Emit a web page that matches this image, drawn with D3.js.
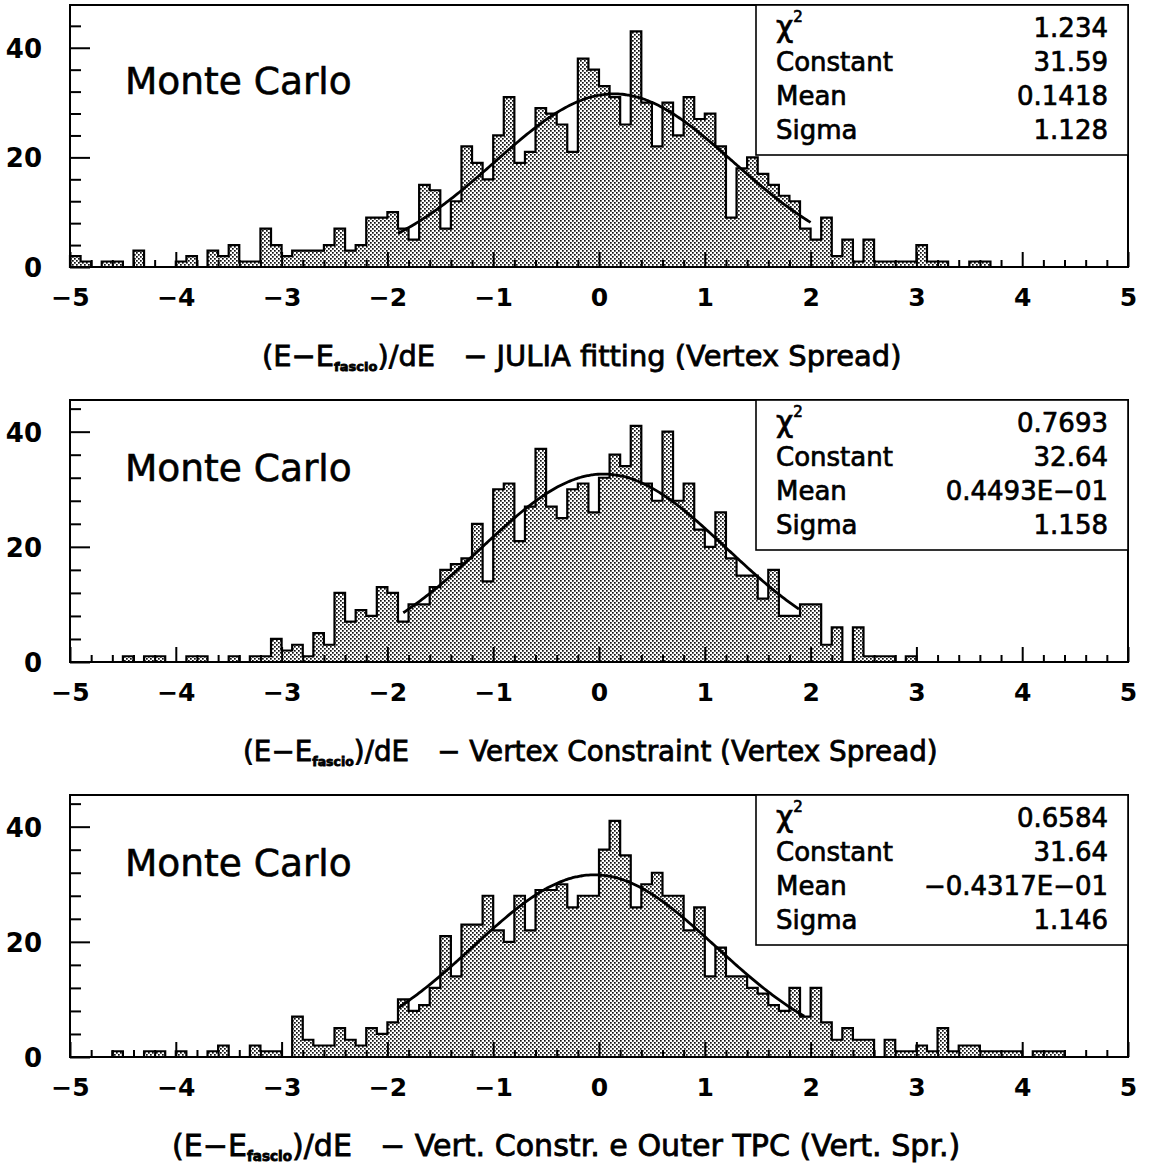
<!DOCTYPE html>
<html>
<head>
<meta charset="utf-8">
<script src="https://cdn.jsdelivr.net/npm/d3@7"></script>
<style>
  body { margin: 0; background: #fff; }
  svg { display: block; }
</style>
</head>
<body>
<svg id="chart" width="1149" height="1171"></svg>
<script>
// ---- data -------------------------------------------------------------
// 100 bins of width 0.1 between -5 and 5 (lower edges)
const binLow = d3.range(100).map(i => -5 + i * 0.1);

// entries per bin, (E - E_fascio)/dE, JULIA fitting
const countsJulia = [
  2, 1, 0, 1, 1, 0, 3, 0, 0, 0,
  1, 2, 0, 3, 2, 4, 1, 1, 7, 4,
  2, 3, 3, 3, 4, 7, 3, 4, 9, 9,
  10, 7, 5, 15, 14, 7, 12, 22, 19, 16,
  24, 31, 19, 21, 29, 28, 26, 21, 38, 36,
  33, 31, 26, 43, 30, 22, 30, 24, 31, 27,
  28, 22, 9, 18, 20, 17, 15, 13, 12, 7,
  5, 9, 2, 5, 1, 5, 1, 1, 1, 1,
  4, 1, 1, 0, 0, 1, 1, 0, 0, 0,
  0, 0, 0, 0, 0, 0, 0, 0, 0, 0
];

// entries per bin, Vertex Constraint
const countsVertex = [
  0, 0, 0, 0, 0, 1, 0, 1, 1, 0,
  0, 1, 1, 0, 0, 1, 0, 1, 1, 4,
  2, 3, 1, 5, 3, 12, 7, 9, 8, 13,
  12, 7, 10, 10, 13, 16, 17, 18, 24, 14,
  30, 31, 21, 27, 37, 27, 25, 30, 31, 26,
  32, 36, 34, 41, 31, 28, 40, 28, 31, 23,
  20, 26, 18, 15, 15, 11, 16, 8, 8, 10,
  10, 3, 6, 0, 6, 1, 1, 1, 0, 1,
  0, 0, 0, 0, 0, 0, 0, 0, 0, 0,
  0, 0, 0, 0, 0, 0, 0, 0, 0, 0
];

// entries per bin, Vertex Constraint + outer TPC
const countsOuter = [
  0, 0, 0, 0, 1, 0, 0, 1, 1, 0,
  1, 0, 0, 1, 2, 0, 0, 2, 1, 1,
  0, 7, 3, 2, 2, 5, 3, 2, 5, 4,
  6, 10, 8, 9, 12, 21, 14, 23, 23, 28,
  22, 20, 28, 22, 29, 29, 30, 26, 28, 28,
  36, 41, 35, 26, 30, 32, 28, 28, 22, 26,
  14, 19, 14, 14, 12, 11, 9, 8, 12, 7,
  12, 6, 3, 5, 3, 3, 0, 3, 1, 1,
  2, 1, 5, 1, 2, 2, 1, 1, 1, 1,
  0, 1, 1, 1, 0, 0, 0, 0, 0, 0
];

// gaussian fit results: chi2, constant, mean, sigma
const statLabels = ["χ", "Constant", "Mean", "Sigma"];
const fitJulia  = ["1.234",  "31.59", "0.1418",      "1.128"];
const fitVertex = ["0.7693", "32.64", "0.4493E-01",  "1.158"];
const fitOuter  = ["0.6584", "31.64", "-0.4317E-01", "1.146"];

// x range covered by each fit
const fitRanges = [[-1.9, 2.0], [-1.85, 1.9], [-1.9, 1.95]];

// vertical axis maximum of each plot
const yTops = [47.8, 45.5, 45.5];

// axis ticks
const xMajorTicks = [-5, -4, -3, -2, -1, 0, 1, 2, 3, 4, 5];
const yMajorTicks = [0, 20, 40];
const yMinorTicks = [4, 8, 12, 16, 24, 28, 32, 36, 44];

// captions below each plot
const captionTails = [
  "− JULIA fitting (Vertex Spread)",
  "− Vertex Constraint (Vertex Spread)",
  "− Vert. Constr. e Outer TPC (Vert. Spr.)"
];
const captionSpan = [[262, 905], [243, 940], [172, 965]];

// ---- drawing ----------------------------------------------------------
const svg = d3.select("#chart");
const FONT = "'DejaVu Sans', 'Liberation Sans', sans-serif";
const left = 70, right = 1128, plotH = 262;
const panelTops = [5, 400, 795];

const defs = svg.append("defs");
const pat = defs.append("pattern")
  .attr("id", "dots").attr("width", 4).attr("height", 4)
  .attr("patternUnits", "userSpaceOnUse");
pat.append("rect").attr("width", 4).attr("height", 4).attr("fill", "#fff");
pat.append("rect").attr("x", 0).attr("y", 0).attr("width", 1.7).attr("height", 1.7).attr("fill", "#111");
pat.append("rect").attr("x", 2).attr("y", 2).attr("width", 1.7).attr("height", 1.7).attr("fill", "#111");

const panels = [
  { counts: countsJulia,  fit: fitJulia },
  { counts: countsVertex, fit: fitVertex },
  { counts: countsOuter,  fit: fitOuter }
];

const minus = s => s.replace(/-/g, "−");

panels.forEach((p, k) => {
  const top = panelTops[k], bottom = top + plotH;
  const x = d3.scaleLinear().domain([-5, 5]).range([left, right]);
  const y = d3.scaleLinear().domain([0, yTops[k]]).range([bottom, top]);
  const g = svg.append("g");

  // histogram outline, filled with a dot screen
  const pts = [[-5, 0]];
  p.counts.forEach((c, i) => {
    pts.push([binLow[i], c]);
    pts.push([binLow[i] + 0.1, c]);
  });
  pts.push([5, 0]);
  const step = d3.line().x(d => x(d[0])).y(d => y(d[1]));
  g.append("path")
    .attr("d", step(pts) + "Z")
    .attr("fill", "url(#dots)")
    .attr("stroke", "#000")
    .attr("stroke-width", 2.2);

  // gaussian fit curve
  const C = +p.fit[1], mu = +p.fit[2], sg = +p.fit[3];
  const [a, b] = fitRanges[k];
  const xs = d3.range(a, b + 1e-9, 0.02);
  const curve = d3.line()
    .x(d => x(d))
    .y(d => y(C * Math.exp(-0.5 * ((d - mu) / sg) ** 2)))
    .curve(d3.curveMonotoneX);
  g.append("path")
    .attr("d", curve(xs))
    .attr("fill", "none")
    .attr("stroke", "#000")
    .attr("stroke-width", 2.8);

  // x axis ticks (pointing up into the plot)
  const xMinor = d3.range(-50, 51, 2).map(v => v / 10).filter(v => !Number.isInteger(v));
  const gxMinor = g.append("g").attr("transform", `translate(0,${bottom})`)
    .call(d3.axisBottom(x).tickValues(xMinor).tickSize(-7).tickFormat(""));
  const gxMajor = g.append("g").attr("transform", `translate(0,${bottom})`)
    .call(d3.axisBottom(x).tickValues(xMajorTicks).tickSize(-15).tickFormat(d3.format("d")));
  [gxMinor, gxMajor].forEach(s => {
    s.select(".domain").remove();
    s.selectAll("line").attr("stroke", "#000").attr("stroke-width", 2);
  });
  gxMajor.selectAll("text")
    .attr("y", 39).attr("dy", null)
    .attr("font-family", FONT).attr("font-size", 25).attr("font-weight", "bold")
    .attr("fill", "#000");

  // y axis ticks (pointing right into the plot)
  const gyMinor = g.append("g").attr("transform", `translate(${left},0)`)
    .call(d3.axisLeft(y).tickValues(yMinorTicks).tickSize(-11).tickFormat(""));
  const gyMajor = g.append("g").attr("transform", `translate(${left},0)`)
    .call(d3.axisLeft(y).tickValues(yMajorTicks).tickSize(-20).tickPadding(28).tickFormat(d3.format("d")));
  [gyMinor, gyMajor].forEach(s => {
    s.select(".domain").remove();
    s.selectAll("line").attr("stroke", "#000").attr("stroke-width", 2);
  });
  gyMajor.selectAll("text")
    .attr("dy", "0.36em")
    .attr("font-family", FONT).attr("font-size", 26).attr("font-weight", "bold")
    .attr("fill", "#000");

  // frame
  g.append("rect")
    .attr("x", left).attr("y", top)
    .attr("width", right - left).attr("height", plotH)
    .attr("fill", "none").attr("stroke", "#000").attr("stroke-width", 2);

  // label inside the plot
  g.append("text")
    .attr("x", x(-4.48)).attr("y", y(31.5))
    .attr("font-family", FONT).attr("font-size", 37.5)
    .attr("fill", "#000").attr("stroke", "#000").attr("stroke-width", 0.6)
    .text("Monte Carlo");

  // fit statistics box
  const boxL = 756;
  g.append("rect")
    .attr("x", boxL).attr("y", top)
    .attr("width", right - boxL).attr("height", 150)
    .attr("fill", "#fff").attr("stroke", "#000").attr("stroke-width", 1.6);
  const rowY = [32, 66, 100, 134];
  statLabels.forEach((lab, r) => {
    const t = g.append("text")
      .attr("x", 776).attr("y", top + rowY[r])
      .attr("font-family", FONT).attr("font-size", 26)
      .attr("fill", "#000").attr("stroke", "#000").attr("stroke-width", 0.7);
    if (r === 0) {
      t.append("tspan").attr("font-size", 30).text(lab);
      t.append("tspan").attr("font-size", 15).attr("dy", -15).text("2");
    } else {
      t.text(lab);
    }
    g.append("text")
      .attr("x", 1108).attr("y", top + rowY[r])
      .attr("text-anchor", "end")
      .attr("font-family", FONT).attr("font-size", 26)
      .attr("fill", "#000").attr("stroke", "#000").attr("stroke-width", 0.7)
      .text(minus(p.fit[r]));
  });

  // caption, scaled to its span under the plot
  const [c0, c1] = captionSpan[k];
  const cap = g.append("text")
    .attr("x", c0).attr("y", bottom + 99)
    .attr("font-family", FONT).attr("font-size", 26)
    .attr("fill", "#000").attr("stroke", "#000").attr("stroke-width", 0.8);
  cap.append("tspan").text("(E−E");
  cap.append("tspan").attr("font-size", "0.45em").attr("font-weight", "bold").attr("dy", 5).text("fascio");
  cap.append("tspan").attr("dy", -5).text(")/dE");
  cap.append("tspan").attr("dx", 28).text(captionTails[k]);
  const w = cap.node().getBBox().width;
  cap.attr("font-size", 26 * (c1 - c0) / w);
});
</script>
</body>
</html>
